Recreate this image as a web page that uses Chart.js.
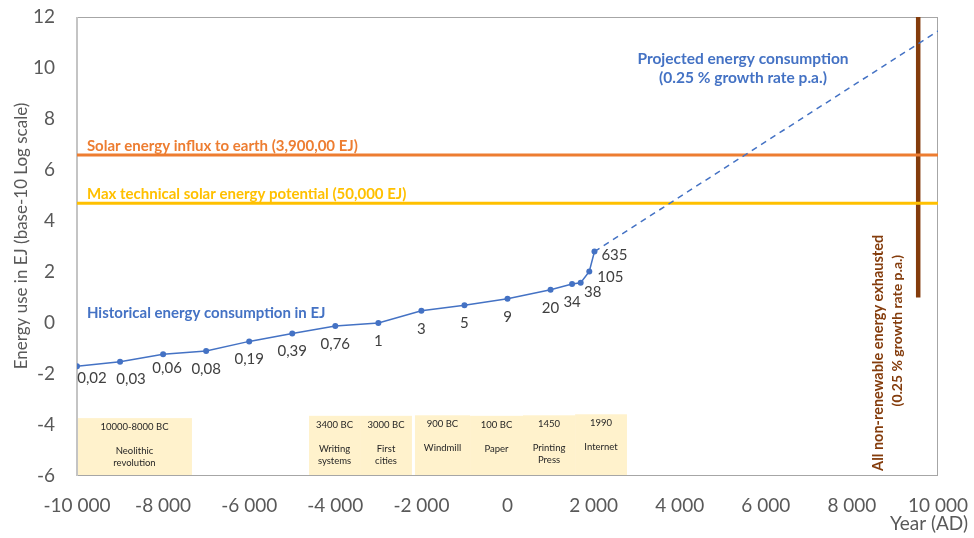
<!DOCTYPE html>
<html>
<head>
<meta charset="utf-8">
<script src="https://cdn.jsdelivr.net/npm/chart.js@4.4.1/dist/chart.umd.min.js"></script>
<style>
  html, body { margin: 0; padding: 0; background: #fff; }
  canvas { display: block; }
</style>
</head>
<body>
<canvas id="chart" width="974" height="538"></canvas>
<script>
// historical energy use
const years = [-10000, -9000, -8000, -7000, -6000, -5000, -4000, -3000, -2000, -1000, 0, 1000, 1500, 1700, 1900, 2020];
const energyEJ = [0.02, 0.03, 0.06, 0.08, 0.19, 0.39, 0.76, 1, 3, 5, 9, 20, 34, 38, 105, 635];
const energyLabels = ['0,02', '0,03', '0,06', '0,08', '0,19', '0,39', '0,76', '1', '3', '5', '9', '20', '34', '38', '105', '635'];

// projection (already log10 units)
const projYears = [2020, 10000];
const projLog = [2.8, 11.45];

const solarInfluxEJ = 3900000;
const solarPotentialEJ = 50000;
const exhaustYear = 9540;
const exhaustLog = [1, 12];

const xMin = -10000, xMax = 10000, xStep = 2000;
const yMin = -6, yMax = 12, yStep = 2;

const milestoneDates = ['10000-8000 BC', '3400 BC', '3000 BC', '900 BC', '100 BC', '1450', '1990'];
const milestoneNames = [['Neolithic', 'revolution'], ['Writing', 'systems'], ['First', 'cities'], ['Windmill'], ['Paper'], ['Printing', 'Press'], ['Internet']];

// layout bits (not data)
const milestoneBoxes = [[-10000, -7330, -3.73], [-4610, -3425, -3.64], [-3425, -2220, -3.64], [-2150, -870, -3.62], [-870, 360, -3.64], [360, 1570, -3.62], [1570, 2775, -3.58]];
const labelOffsets = [[15, 12], [11, 17], [4, 14], [0, 18], [0, 18], [0, 18], [0, 18], [0, 18], [0, 18], [0, 18], [0, 18], [0, 18], [0, 18], [12, 9], [21, 6], [20, 4]];

const blue = '#4472C4';
const orange = '#ED7D31';
const yellow = '#FFC000';
const brown = '#843C0C';
const axisGrey = '#595959';
const FONT = 'Lato';

Chart.defaults.font.family = FONT;

function fmtThousands(v) {
  const s = Math.abs(v).toString().replace(/\B(?=(\d{3})+(?!\d))/g, ' ');
  return (v < 0 ? '-' : '') + s;
}

function hline(val, color) {
  return {
    data: [{ x: xMin, y: Math.log10(val) }, { x: xMax, y: Math.log10(val) }],
    borderColor: color, borderWidth: 3, pointRadius: 0
  };
}

const decor = {
  id: 'decor',
  beforeDatasetsDraw(chart) {
    const { ctx, chartArea: a, scales: { x, y } } = chart;
    ctx.save();
    ctx.textAlign = 'center';
    ctx.textBaseline = 'middle';
    ctx.font = '9.5px ' + FONT;
    milestoneBoxes.forEach(([x0, x1, top], i) => {
      const l = x.getPixelForValue(x0), r = x.getPixelForValue(x1), t = y.getPixelForValue(top);
      ctx.fillStyle = '#FFF2CC';
      ctx.fillRect(l, t, r - l, a.bottom - t);
      ctx.fillStyle = '#262626';
      const cx = (l + r) / 2;
      ctx.fillText(milestoneDates[i], cx, t + 9);
      milestoneNames[i].forEach((s, j) => ctx.fillText(s, cx, t + 33 + j * 12));
    });
    // plot frame
    ctx.strokeStyle = '#A6A6A6';
    ctx.lineWidth = 1;
    ctx.strokeRect(a.left + 0.5, a.top + 0.5, a.right - a.left - 1, a.bottom - a.top - 1);
    ctx.strokeStyle = '#C4C4C4';
    ctx.lineWidth = 2;
    ctx.beginPath();
    ctx.moveTo(a.left, a.top);
    ctx.lineTo(a.left, a.bottom);
    ctx.stroke();
    ctx.restore();
  },
  afterDatasetsDraw(chart) {
    const { ctx, scales: { x, y } } = chart;
    ctx.save();

    // point labels
    ctx.font = '15px ' + FONT;
    ctx.fillStyle = '#404040';
    ctx.textAlign = 'center';
    ctx.textBaseline = 'middle';
    years.forEach((yr, i) => {
      const px = x.getPixelForValue(yr), py = y.getPixelForValue(Math.log10(energyEJ[i]));
      ctx.fillText(energyLabels[i], px + labelOffsets[i][0], py + labelOffsets[i][1]);
    });

    // notes
    ctx.font = 'bold 15px ' + FONT;
    ctx.textAlign = 'left';
    ctx.textBaseline = 'alphabetic';
    ctx.fillStyle = orange;
    ctx.fillText('Solar energy influx to earth (3,900,00 EJ)', x.getPixelForValue(-9770), y.getPixelForValue(Math.log10(solarInfluxEJ)) - 4);
    ctx.fillStyle = yellow;
    ctx.fillText('Max technical solar energy potential (50,000 EJ)', x.getPixelForValue(-9770), y.getPixelForValue(Math.log10(solarPotentialEJ)) - 4);

    ctx.textBaseline = 'middle';
    ctx.fillStyle = blue;
    ctx.fillText('Historical energy consumption in EJ', x.getPixelForValue(-9770), y.getPixelForValue(0.39));
    ctx.textAlign = 'center';
    ctx.font = 'bold 15.5px ' + FONT;
    ctx.fillText('Projected energy consumption', x.getPixelForValue(5470), y.getPixelForValue(10.35));
    ctx.fillText('(0.25 % growth rate p.a.)', x.getPixelForValue(5470), y.getPixelForValue(9.6));

    // vertical note by the brown line
    ctx.fillStyle = brown;
    ctx.save();
    ctx.font = 'bold 14.5px ' + FONT;
    ctx.textAlign = 'left';
    ctx.translate(x.getPixelForValue(8607), y.getPixelForValue(-5.8));
    ctx.rotate(-Math.PI / 2);
    ctx.fillText('All non-renewable energy exhausted', 0, 0);
    ctx.restore();
    ctx.save();
    ctx.font = 'bold 14px ' + FONT;
    ctx.translate(x.getPixelForValue(9048), y.getPixelForValue(-0.3));
    ctx.rotate(-Math.PI / 2);
    ctx.fillText('(0.25 % growth rate p.a.)', 0, 0);
    ctx.restore();

    // axis titles
    ctx.fillStyle = axisGrey;
    ctx.font = '17px ' + FONT;
    ctx.save();
    ctx.translate(22, 236);
    ctx.rotate(-Math.PI / 2);
    ctx.fillText('Energy use in EJ (base-10 Log scale)', 0, 0);
    ctx.restore();
    ctx.font = '19px ' + FONT;
    ctx.textAlign = 'right';
    ctx.fillText('Year (AD)', 968, 524);
    ctx.restore();
  }
};

new Chart(document.getElementById('chart'), {
  type: 'line',
  data: {
    datasets: [
      {
        data: years.map((yr, i) => ({ x: yr, y: Math.log10(energyEJ[i]) })),
        borderColor: blue, backgroundColor: blue, borderWidth: 1.5,
        pointRadius: 3, pointBorderWidth: 0, tension: 0
      },
      {
        data: projYears.map((yr, i) => ({ x: yr, y: projLog[i] })),
        borderColor: blue, borderWidth: 1.5, borderDash: [6, 5], pointRadius: 0
      },
      hline(solarInfluxEJ, orange),
      hline(solarPotentialEJ, yellow),
      {
        data: exhaustLog.map(v => ({ x: exhaustYear, y: v })),
        borderColor: brown, borderWidth: 4.5, pointRadius: 0, clip: false
      }
    ]
  },
  options: {
    responsive: false,
    animation: false,
    devicePixelRatio: 1,
    layout: { padding: { top: 17, right: 36, left: 0, bottom: 0 } },
    plugins: { legend: { display: false }, tooltip: { enabled: false } },
    scales: {
      x: {
        type: 'linear', min: xMin, max: xMax,
        ticks: { stepSize: xStep, callback: fmtThousands, color: axisGrey, font: { size: 19 }, padding: 0, maxRotation: 0, autoSkip: false },
        grid: { display: false, drawTicks: true, tickLength: 18 },
        border: { display: false },
        afterFit: s => { s.height = 62; }
      },
      y: {
        type: 'linear', min: yMin, max: yMax,
        ticks: { stepSize: yStep, color: axisGrey, font: { size: 19 }, padding: 0 },
        grid: { display: false, drawTicks: true, tickLength: 22 },
        border: { display: false },
        afterFit: s => { s.width = 77; }
      }
    }
  },
  plugins: [decor]
});
</script>
</body>
</html>
